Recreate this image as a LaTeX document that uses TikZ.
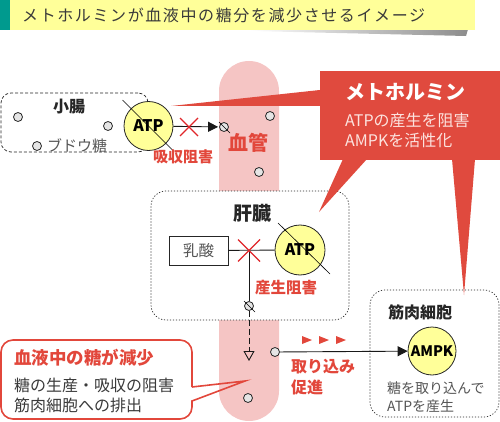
\documentclass[tikz,border=0pt]{standalone}
\usepackage{fontspec}
\setmainfont{Noto Sans CJK JP}
\usetikzlibrary{arrows.meta,fadings}

\definecolor{titleyellow}{HTML}{FFFF99}
\definecolor{titleteal}{HTML}{009A8E}
\definecolor{vesselpink}{HTML}{F5C5C4}
\definecolor{metred}{HTML}{E04A3E}
\definecolor{txtred}{HTML}{E2473B}
\definecolor{crossred}{HTML}{E0262A}
\definecolor{atpyellow}{HTML}{FFFF99}
\definecolor{txtgray}{HTML}{555555}
\definecolor{txtdark}{HTML}{3A3A3A}
\definecolor{metlight}{HTML}{FCE3DF}

\newcommand{\fsz}[1]{\fontsize{#1}{#1}\selectfont}

\tikzfading[name=shadowfade, left color=transparent!100, right color=transparent!0]

\tikzset{
  gutbox/.style={draw=black!85, line width=0.7pt, rounded corners=10pt, dash pattern=on 3pt off 2pt},
  organbox/.style={draw=black!85, line width=0.7pt, rounded corners=15pt, dash pattern=on 1.2pt off 1.8pt},
  sugar/.style={circle, draw=black!85, fill=black!10, line width=0.8pt, minimum size=9pt, inner sep=0pt},
  energy/.style={circle, draw=black!85, fill=atpyellow, line width=0.8pt, inner sep=0pt, font=\bfseries\fsz{16}},
  organname/.style={font=\bfseries\fsz{16}, text=black!85, inner sep=0pt},
  redlabel/.style={font=\bfseries\fsz{15}, text=txtred, inner sep=0pt},
  graylabel/.style={font=\fsz{15}, text=txtgray, inner sep=0pt},
  block/.style={crossred, line width=1.4pt},
  flow/.style={draw=black!90, line width=0.9pt, -{Triangle[length=10pt,width=10pt]}},
}

\begin{document}
\begin{tikzpicture}[x=1pt,y=-1pt]
\useasboundingbox (0,0) rectangle (500,422);

%%%%%%%%%%%%%%%%%%%%%%%%%%%%%%%%%%%%%%%%%%%%%%%%
% title bar
\fill[black!45, path fading=shadowfade] (250,29) -- (468,29) -- (466,36) -- (250,31) -- cycle;
\fill[titleyellow] (10,0) rectangle (475,30);
\fill[titleteal] (0,0) rectangle (10,30);
\node[anchor=west, inner sep=0pt, text=txtdark, font=\fsz{16}\addfontfeature{LetterSpace=10}] (title) at (22,15) {メトホルミンが血液中の糖分を減少させるイメージ};

%%%%%%%%%%%%%%%%%%%%%%%%%%%%%%%%%%%%%%%%%%%%%%%%
% blood vessel
\fill[vesselpink, rounded corners=30pt] (219,61) rectangle (279,421);
\node[font=\bfseries\fsz{20}, text=txtred, inner sep=0pt] (vessel) at (248,143) {血管};
\node[sugar] (v1) at (270,116) {};
\node[sugar] (v2) at (259,172) {};
\node[sugar] (v3) at (248,398) {};

%%%%%%%%%%%%%%%%%%%%%%%%%%%%%%%%%%%%%%%%%%%%%%%%
% small intestine
\node[gutbox, minimum width=147pt, minimum height=59pt] (gut) at (74.5,122.5) {};
\node[organname] (gutname) at (69,107) {小腸};
\node[sugar] (g1) at (18,117) {};
\node[sugar] (g2) at (108,126) {};
\node[sugar] (g3) at (37,146) {};
\node[graylabel, anchor=west] (glucose) at (47,146) {ブドウ糖};
\node[energy, minimum size=49pt] (atp1) at (148.5,126) {ATP};
\draw[line width=0.6pt] ([shift={(-26,-26)}]atp1.center) -- ([shift={(25,25)}]atp1.center);
\node[sugar] (in1) at (224,127) {};
\draw[line width=0.6pt] ([shift={(-5,-5)}]in1.center) -- ([shift={(6,6)}]in1.center);
\draw[flow, shorten >=1pt] (atp1) -- (in1);
\coordinate (x1) at (189,127);
\draw[block] ([shift={(-9,-9)}]x1) -- ([shift={(9,9)}]x1)
             ([shift={(-9,9)}]x1) -- ([shift={(9,-9)}]x1);
\node[redlabel] (absorb) at (183,157) {吸収阻害};

%%%%%%%%%%%%%%%%%%%%%%%%%%%%%%%%%%%%%%%%%%%%%%%%
% liver
\node[organbox, fill=white, minimum width=198pt, minimum height=129pt] (liver) at (250,255.5) {};
\node[organname, font=\bfseries\fsz{19}] (livername) at (252,213) {肝臓};
\node[draw=black!85, line width=0.8pt, minimum width=59pt, minimum height=29pt, inner sep=0pt, font=\fsz{15.5}, text=txtgray] (lactic) at (198.5,250.5) {乳酸};
\node[energy, minimum size=50pt] (atp2) at (300,250) {ATP};
\draw[line width=0.6pt] ([shift={(-22,-27)}]atp2.center) -- ([shift={(30,24)}]atp2.center);
\node[sugar] (out1) at (249,306) {};
\draw[line width=0.6pt] ([shift={(-5,-5)}]out1.center) -- ([shift={(6,6)}]out1.center);
\draw[draw=black!90, line width=0.9pt] (lactic) -- (atp2);
\draw[draw=black!90, line width=0.9pt] (out1 |- lactic.east) -- (out1);
\coordinate (x2) at (out1 |- lactic.east);
\draw[block] ([shift={(-11,-11)}]x2) -- ([shift={(11,11)}]x2)
             ([shift={(-11,11)}]x2) -- ([shift={(11,-11)}]x2);
\node[redlabel, font=\bfseries\fsz{15.5}] (produce) at (286,288) {産生阻害};
\coordinate (down) at (249,361);
\draw[draw=black!90, line width=0.9pt, dash pattern=on 6pt off 3pt, -{Triangle[open,length=10pt,width=11pt]}] (out1) -- (down);

%%%%%%%%%%%%%%%%%%%%%%%%%%%%%%%%%%%%%%%%%%%%%%%%
% muscle cell
\node[organbox, minimum width=129pt, minimum height=127pt] (muscle) at (434.5,353.5) {};
\node[organname] (musclename) at (420,312) {筋肉細胞};
\node[energy, minimum size=48pt, font=\bfseries\fsz{14.5}] (ampk) at (432,351) {AMPK};
\node[graylabel, font=\fsz{14}, anchor=west] (take1) at (387,388) {糖を取り込んで};
\node[graylabel, font=\fsz{14}, anchor=west] (take2) at (387,406) {ATPを産生};
\node[sugar] (m1) at (275,352) {};
\draw[flow] (m1) -- (ampk);
\foreach \x in {302,319,336}
  \fill[txtred] (\x,336) -- (\x+10,340) -- (\x,344) -- cycle;
\node[redlabel, font=\bfseries\fsz{16}, anchor=west] (uptake1) at (291,367) {取り込み};
\node[redlabel, font=\bfseries\fsz{16}, anchor=west] (uptake2) at (291,387) {促進};

%%%%%%%%%%%%%%%%%%%%%%%%%%%%%%%%%%%%%%%%%%%%%%%%
% metformin callout
\node[fill=metred, minimum width=180pt, minimum height=89pt, inner sep=0pt] (metf) at (410,115.5) {};
\fill[metred] (metf.west |- 0,90) -- (171,106) -- (metf.west |- 0,106) -- cycle;
\fill[metred] (343,159) -- (319,212) -- (367,159) -- cycle;
\fill[metred] (452,159) -- (464,295) -- (475,159) -- cycle;
\node[anchor=west, inner sep=0pt, text=white, font=\bfseries\fsz{20}] (metname) at (345,92) {メトホルミン};
\node[anchor=west, inner sep=0pt, text=metlight, font=\fsz{16}] (met1) at (345,120) {ATPの産生を阻害};
\node[anchor=west, inner sep=0pt, text=metlight, font=\fsz{16}] (met2) at (345,140) {AMPKを活性化};

%%%%%%%%%%%%%%%%%%%%%%%%%%%%%%%%%%%%%%%%%%%%%%%%
% summary callout
\coordinate (tip) at (245,381);
\draw[txtred, line width=1.6pt] (192,387) [rounded corners=12pt] -- (192,340) -- (1,340) -- (1,419) -- (192,419) [sharp corners] -- (192,401) -- (tip) -- (192,387);
\node[anchor=west, inner sep=0pt, text=txtred, font=\bfseries\fsz{17.5}] (sum0) at (14,358) {血液中の糖が減少};
\node[anchor=west, inner sep=0pt, text=txtdark, font=\fsz{16}] (sum1) at (14,385) {糖の生産・吸収の阻害};
\node[anchor=west, inner sep=0pt, text=txtdark, font=\fsz{16}] (sum2) at (14,405) {筋肉細胞への排出};
\end{tikzpicture}
\end{document}
